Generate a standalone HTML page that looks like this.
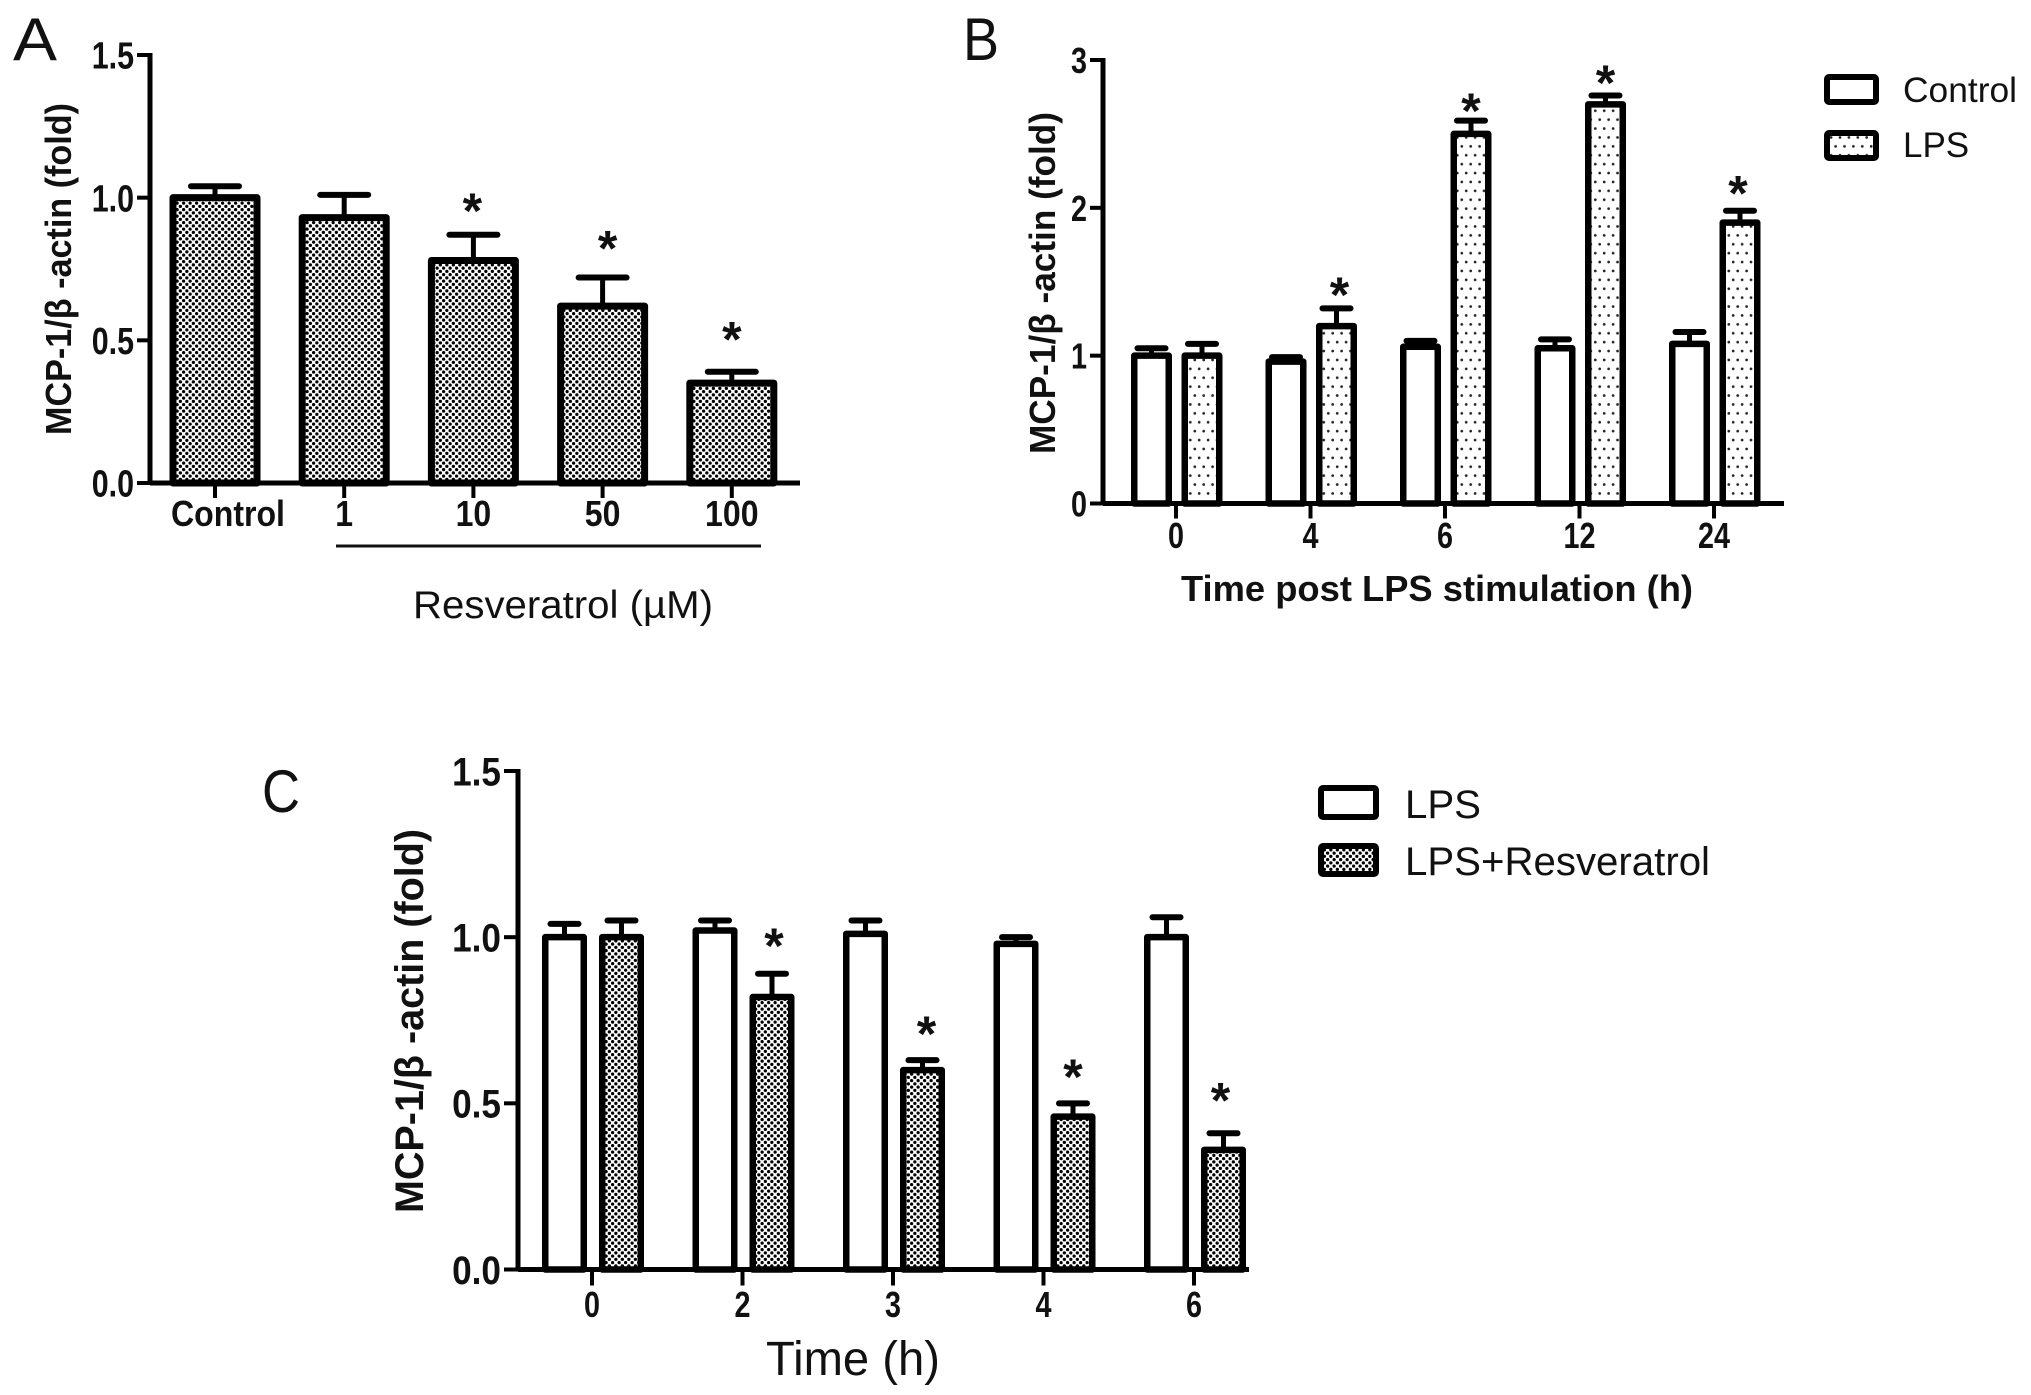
<!DOCTYPE html>
<html lang="en">
<head>
<meta charset="utf-8">
<title>MCP-1 expression bar charts</title>
<style>
html,body{margin:0;padding:0;background:#fff;}
svg{display:block;}
text{font-family:"Liberation Sans",sans-serif;fill:#111;}
.b{font-weight:bold;}
</style>
</head>
<body>
<svg id="fig" xmlns="http://www.w3.org/2000/svg" width="2031" height="1395" viewBox="0 0 2031 1395">
<defs>
<pattern id="checker" patternUnits="userSpaceOnUse" width="6.5" height="6.5">
<rect width="6.5" height="6.5" fill="#fff"/>
<circle cx="1.6" cy="1.6" r="1.65" fill="#000"/>
<circle cx="4.85" cy="4.85" r="1.65" fill="#000"/>
</pattern>
<pattern id="dots" patternUnits="userSpaceOnUse" width="8.9" height="17.8">
<rect width="8.9" height="17.8" fill="#fff"/>
<circle cx="2.2" cy="4" r="1.35" fill="#222"/>
<circle cx="6.6" cy="12.9" r="1.35" fill="#222"/>
</pattern>
</defs>

<text x="13" y="60" font-size="60" textLength="44" lengthAdjust="spacingAndGlyphs">A</text>
<text x="963" y="60" font-size="60" textLength="36" lengthAdjust="spacingAndGlyphs">B</text>
<text x="262" y="812" font-size="60" textLength="38" lengthAdjust="spacingAndGlyphs">C</text>

<text class="b" transform="translate(71 269) rotate(-90)" text-anchor="middle" font-size="36" textLength="332" lengthAdjust="spacingAndGlyphs">MCP-1/β -actin (fold)</text>
<text class="b" transform="translate(1055 283) rotate(-90)" text-anchor="middle" font-size="36" textLength="342" lengthAdjust="spacingAndGlyphs">MCP-1/β -actin (fold)</text>
<text class="b" transform="translate(423 1021) rotate(-90)" text-anchor="middle" font-size="40" textLength="384" lengthAdjust="spacingAndGlyphs">MCP-1/β -actin (fold)</text>

<line x1="336" y1="546" x2="761" y2="546" stroke="#111" stroke-width="3"/>
<text x="413" y="618" font-size="39" textLength="300" lengthAdjust="spacingAndGlyphs">Resveratrol (µM)</text>
<text class="b" x="1181" y="601" font-size="36" textLength="512" lengthAdjust="spacingAndGlyphs">Time post LPS stimulation (h)</text>
<text x="766" y="1375" font-size="48" textLength="174" lengthAdjust="spacingAndGlyphs">Time (h)</text>

<g>
<rect x="1827" y="77" width="49" height="25" rx="2" fill="#fff" stroke="#000" stroke-width="6"/>
<text x="1903" y="102" font-size="35" textLength="114" lengthAdjust="spacingAndGlyphs">Control</text>
<rect x="1827" y="133" width="49" height="25" rx="2" fill="url(#dots)" stroke="#000" stroke-width="6"/>
<text x="1903" y="157" font-size="35">LPS</text>
</g>
<g>
<rect x="1330" y="793" width="55" height="29" rx="2" fill="#fff" stroke="#000" stroke-width="6" transform="translate(-9 -5)"/>
<text x="1414" y="823" font-size="40" textLength="76" lengthAdjust="spacingAndGlyphs" transform="translate(-9 -5)">LPS</text>
<rect x="1321" y="846" width="55" height="28" rx="2" fill="url(#checker)" stroke="#000" stroke-width="6"/>
<text x="1405" y="875" font-size="40" textLength="305" lengthAdjust="spacingAndGlyphs">LPS+Resveratrol</text>
</g>

<g id="panel-a"></g>
<g id="panel-b"></g>
<g id="panel-c"></g>
</svg>

<script>
/* Panel A data */
const categoriesA = ['Control', '1', '10', '50', '100'];
const valuesA = [1.0, 0.93, 0.78, 0.62, 0.35];
const errorsA = [0.04, 0.08, 0.09, 0.10, 0.04];
const starGapsA = [null, null, 0.10, 0.12, 0.13];
const tickValuesA = [0, 0.5, 1.0, 1.5];
const tickLabelsA = ['0.0', '0.5', '1.0', '1.5'];

/* Panel B data */
const categoriesB = ['0', '4', '6', '12', '24'];
const controlB = [1.0, 0.96, 1.06, 1.05, 1.08];
const controlErrorsB = [0.05, 0.03, 0.04, 0.06, 0.08];
const lpsB = [1.0, 1.2, 2.5, 2.7, 1.9];
const lpsErrorsB = [0.08, 0.12, 0.09, 0.06, 0.08];
const lpsStarGapsB = [null, 0.145, 0.12, 0.14, 0.17];
const tickValuesB = [0, 1, 2, 3];
const tickLabelsB = ['0', '1', '2', '3'];

/* Panel C data */
const categoriesC = ['0', '2', '3', '4', '6'];
const lpsC = [1.0, 1.02, 1.01, 0.98, 1.0];
const lpsErrorsC = [0.04, 0.03, 0.04, 0.02, 0.06];
const resveratrolC = [1.0, 0.82, 0.60, 0.46, 0.36];
const resveratrolErrorsC = [0.05, 0.07, 0.03, 0.04, 0.05];
const resveratrolStarGapsC = [null, 0.105, 0.10, 0.10, 0.12];
const tickValuesC = [0, 0.5, 1.0, 1.5];
const tickLabelsC = ['0.0', '0.5', '1.0', '1.5'];

const NS = 'http://www.w3.org/2000/svg';

function make(parent, tag, attrs, content) {
  const node = document.createElementNS(NS, tag);
  for (const key in attrs) node.setAttribute(key, attrs[key]);
  if (content !== undefined) node.textContent = content;
  parent.appendChild(node);
  return node;
}

function condense(node, factor) {
  const len = node.getComputedTextLength();
  node.setAttribute('textLength', (len * factor).toFixed(1));
  node.setAttribute('lengthAdjust', 'spacingAndGlyphs');
}

function drawPanel(p) {
  const g = document.getElementById(p.id);
  const yScale = v => p.y0 - (v / p.yMax) * (p.y0 - p.yTop);
  const xScale = i => p.x0 + i * p.step;

  p.series.forEach(s => {
    s.values.forEach((v, i) => {
      const cx = xScale(i) + s.offset;
      const half = (p.barW - p.stroke) / 2;
      const top = yScale(v);
      const errTop = yScale(v + s.errors[i]);

      const stem = make(g, 'line', {x1: cx, x2: cx, y1: top, y2: errTop, stroke: '#000', 'stroke-width': p.stemW});
      
      

      const cap = make(g, 'line', {x1: cx - p.capW / 2, x2: cx + p.capW / 2, y1: errTop, y2: errTop, stroke: '#000', 'stroke-width': p.capT, 'stroke-linecap': 'round'});
      
      

      const bar = make(g, 'rect', {x: cx - half, y: top, width: half * 2, height: p.y0 - top, fill: s.fill, stroke: '#000', 'stroke-width': p.stroke, 'stroke-linejoin': 'round'});
      
      

      if (s.starGaps && s.starGaps[i] !== null) {
        const sy = yScale(v + s.errors[i] + s.starGaps[i]);
        const star = make(g, 'text', {x: cx + (p.starDx ? p.starDx[i] : 0), y: sy + p.starOff, 'text-anchor': 'middle', 'font-size': 50, 'font-weight': 'bold'}, '*');
        
        
      }
    });
  });

  const yAxis = make(g, 'line', {x1: p.axisX, x2: p.axisX, y1: p.yTop - 2, y2: p.y0 + 2, stroke: '#000', 'stroke-width': 5});
  
  

  const xAxis = make(g, 'line', {x1: p.axisX, x2: p.axisEnd, y1: p.y0, y2: p.y0, stroke: '#000', 'stroke-width': 5});
  
  

  p.tickValues.forEach((v, i) => {
    const y = yScale(v);
    const tick = make(g, 'line', {x1: p.axisX - p.tickLen, x2: p.axisX, y1: y, y2: y, stroke: '#000', 'stroke-width': 4});
    
    
    const label = make(g, 'text', {x: p.axisX - p.tickLen - 3, y: y + p.yFont * 0.36, 'text-anchor': 'end', 'font-size': p.yFont, 'font-weight': 'bold'}, p.tickLabels[i]);
    
    
    condense(label, p.yCondense);
  });

  p.categories.forEach((c, i) => {
    const x = xScale(i);
    const tick = make(g, 'line', {x1: x, x2: x, y1: p.y0, y2: p.y0 + p.tickLen + 2, stroke: '#000', 'stroke-width': 4});
    
    
    const label = make(g, 'text', {x: x + (p.labelDx ? p.labelDx[i] : 0), y: p.labelY, 'text-anchor': 'middle', 'font-size': p.xFont, 'font-weight': 'bold'}, c);
    
    
    condense(label, p.xCondense);
  });
}

drawPanel({
  id: 'panel-a', x0: 215, step: 129.2, y0: 483, yTop: 55, yMax: 1.5, axisX: 150, axisEnd: 800,
  barW: 91, stroke: 7, stemW: 5, capW: 48, capT: 6, tickLen: 13,
  yFont: 38, yCondense: 0.8, xFont: 36, xCondense: 0.89, labelY: 526, starOff: 22,
  labelDx: [13, 0, 0, 0, 0], starDx: [0, 0, -1, 5, 0],
  categories: categoriesA, tickValues: tickValuesA, tickLabels: tickLabelsA,
  series: [{name: 'resveratrol', values: valuesA, errors: errorsA, starGaps: starGapsA, fill: 'url(#checker)', offset: 0}]
});

drawPanel({
  id: 'panel-b', x0: 1176, step: 134.5, y0: 503.5, yTop: 60, yMax: 3, axisX: 1103, axisEnd: 1784,
  barW: 41, stroke: 6.5, stemW: 5, capW: 28, capT: 6, tickLen: 13,
  yFont: 36, yCondense: 0.8, xFont: 36, xCondense: 0.8, labelY: 548, starOff: 25,
  starDx: [0, 3, 0, 0, -2],
  categories: categoriesB, tickValues: tickValuesB, tickLabels: tickLabelsB,
  series: [
    {name: 'control', values: controlB, errors: controlErrorsB, starGaps: null, fill: '#fff', offset: -24.5},
    {name: 'lps', values: lpsB, errors: lpsErrorsB, starGaps: lpsStarGapsB, fill: 'url(#dots)', offset: 26}
  ]
});

drawPanel({
  id: 'panel-c', x0: 592, step: 150.5, y0: 1269.5, yTop: 771, yMax: 1.5, axisX: 518, axisEnd: 1249,
  barW: 45, stroke: 6.5, stemW: 5, capW: 28, capT: 6, tickLen: 14,
  yFont: 40, yCondense: 0.88, xFont: 36, xCondense: 0.8, labelY: 1317, starOff: 24,
  starDx: [0, 2, 4, 0, -3],
  categories: categoriesC, tickValues: tickValuesC, tickLabels: tickLabelsC,
  series: [
    {name: 'lps', values: lpsC, errors: lpsErrorsC, starGaps: null, fill: '#fff', offset: -27.5},
    {name: 'resveratrol', values: resveratrolC, errors: resveratrolErrorsC, starGaps: resveratrolStarGapsC, fill: 'url(#checker)', offset: 29.5}
  ]
});
</script>
</body>
</html>
